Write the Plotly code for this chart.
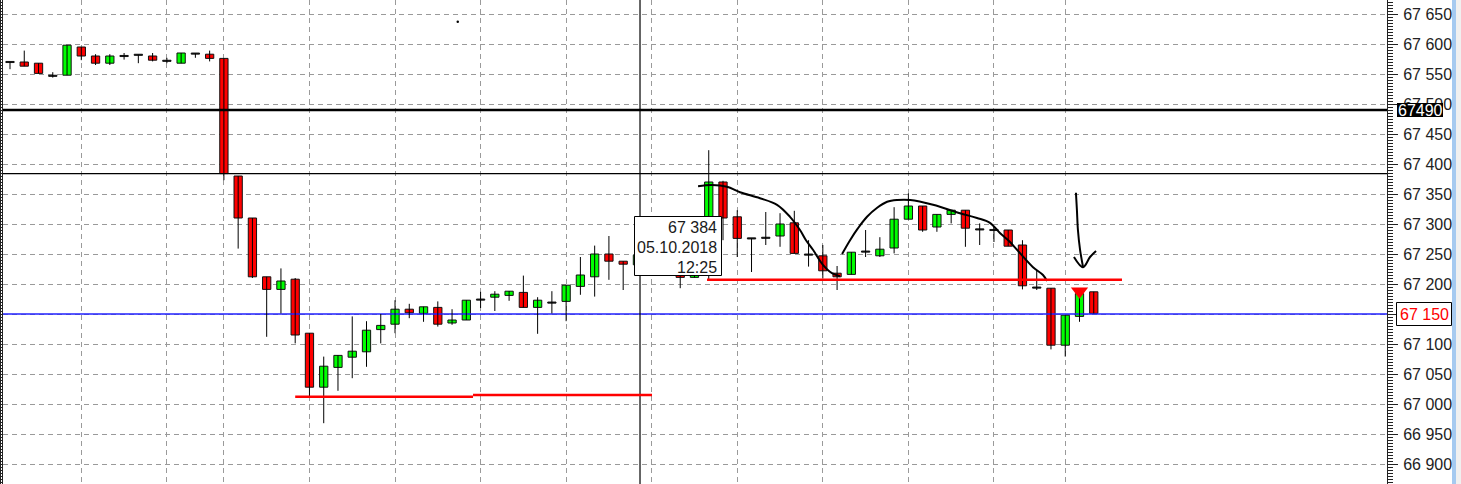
import plotly.graph_objects as go

# ---------------- data ----------------
opens = [67570, 67570, 67568, 67547, 67548, 67595, 67580, 67568, 67580, 67582,
         67580, 67572, 67568, 67584, 67583, 67576, 67380, 67310, 67212, 67191,
         67208, 67118, 67028, 67061, 67078, 67087, 67124, 67133, 67158, 67151,
         67161, 67135, 67140, 67174, 67178, 67181, 67186, 67161, 67169, 67171,
         67196, 67212, 67250, 67238, 67232, 67248, 67240, 67218, 67211, 67216,
         67370, 67312, 67276, 67277, 67280, 67302, 67249, 67247, 67218, 67216,
         67254, 67247, 67260, 67308, 67330, 67295, 67316, 67323, 67291, 67290,
         67290, 67265, 67194, 67193, 67098, 67146, 67187]
highs = [67570, 67589, 67568, 67553, 67598, 67595, 67583, 67583, 67585, 67582,
         67585, 67577, 67585, 67584, 67589, 67576, 67380, 67310, 67212, 67226,
         67210, 67118, 67079, 67081, 67146, 67138, 67150, 67173, 67167, 67162,
         67171, 67158, 67173, 67187, 67188, 67188, 67214, 67178, 67188, 67198,
         67245, 67264, 67280, 67238, 67255, 67262, 67250, 67228, 67225, 67423,
         67372, 67323, 67276, 67320, 67318, 67322, 67273, 67265, 67230, 67253,
         67290, 67278, 67328, 67351, 67330, 67316, 67323, 67323, 67301, 67295,
         67290, 67273, 67223, 67193, 67148, 67184, 67187]
lows = [67558, 67563, 67551, 67544, 67548, 67573, 67565, 67565, 67574, 67568,
        67571, 67568, 67568, 67577, 67571, 67373, 67259, 67210, 67112, 67151,
        67101, 67012, 66968, 67022, 67043, 67062, 67101, 67118, 67143, 67137,
        67129, 67132, 67140, 67160, 67155, 67172, 67161, 67117, 67151, 67138,
        67182, 67179, 67207, 67190, 67228, 67230, 67218, 67193, 67211, 67207,
        67273, 67245, 67220, 67265, 67262, 67251, 67229, 67209, 67190, 67216,
        67245, 67245, 67251, 67308, 67287, 67287, 67301, 67262, 67265, 67270,
        67263, 67191, 67190, 67091, 67079, 67137, 67151]
closes = [67570, 67563, 67551, 67547, 67598, 67580, 67568, 67580, 67580, 67582,
          67573, 67572, 67585, 67584, 67576, 67384, 67310, 67212, 67191, 67205,
          67115, 67028, 67063, 67081, 67088, 67123, 67131, 67158, 67152, 67162,
          67133, 67140, 67173, 67174, 67183, 67188, 67161, 67173, 67169, 67198,
          67215, 67250, 67238, 67233, 67248, 67240, 67225, 67211, 67218, 67370,
          67310, 67276, 67276, 67277, 67300, 67251, 67249, 67222, 67212, 67253,
          67254, 67258, 67308, 67330, 67290, 67316, 67323, 67293, 67291, 67290,
          67263, 67197, 67194, 67098, 67148, 67184, 67151]
bar_index = list(range(len(opens)))

# bars where the terminal draws its vertical grid
grid_bars = [5, 11, 15, 21, 27, 33, 39, 45, 51, 57, 63, 69, 74]

price_ticks = list(range(66900, 67651, 50))
price_labels = [f"{v // 1000} {v % 1000:03d}" for v in price_ticks]

# horizontal levels
level_thick = 67490       # black thick
level_cross = 67384       # crosshair price
level_bid = 67150         # blue bid line
# red support segments: (start bar, end bar, price)
supports = [(20.0, 32.47, 67012), (32.47, 45.02, 67015), (48.88, 77.98, 67207)]
cross_bar = 44.18

# hand drawn strokes (bar index, price)
curve1_x = [48.25, 49.23, 50.28, 51.19, 52.59, 53.79, 54.70, 55.40, 55.82, 56.31, 57.01, 57.64, 58.20]
curve1_y = [67363, 67365, 67362, 67353, 67343, 67332, 67312, 67290, 67273, 67257, 67232, 67218, 67213]
curve2_x = [58.35, 58.91, 59.47, 60.10, 60.81, 61.51, 62.22, 63.13, 64.73, 66.62, 67.81, 68.72,
            69.42, 70.13, 70.62, 71.74, 72.44, 72.72]
curve2_y = [67250, 67273, 67293, 67312, 67327, 67337, 67340, 67340, 67332, 67318, 67310, 67302,
            67285, 67270, 67257, 67228, 67215, 67205]
arrow_x = [74.75, 74.82, 74.89, 75.04, 75.25]
arrow_y = [67352, 67323, 67290, 67257, 67228]
head_x = [74.61, 75.25, 75.74, 76.16]
head_y = [67245, 67228, 67245, 67255]
signal_bar, signal_price = 75, 67188
dot_bar, dot_price = 31.4, 67637

tooltip_lines = ["67 384", "05.10.2018", "12:25"]
thick_label = "67490"
bid_label = "67 150"

# ---------------- geometry ----------------
W, H = 1461, 484
ML, MR = 3, 74
PW = W - ML - MR
X0 = -7 / 14.26
X1 = X0 + PW / 14.26
Y_TOP = 67150 + 314 / 0.6
Y_BOT = 67150 - 170 / 0.6


def px(x):
    return (x - ML) / PW


def py(y):
    return 1 - y / H


GREEN, RED = "#00ff00", "#ff0000"
GRID = "#9a9a9a"
FONT = "Liberation Sans, Arial, sans-serif"

# the bid price is shown by its own red label, so its plain tick text is left empty
axis_labels = ["" if v == level_bid else t for v, t in zip(price_ticks, price_labels)]

fig = go.Figure()

# blue bid line (drawn as first trace: above the grid, below the candles)
fig.add_trace(go.Scatter(x=[X0 - 1, X1 + 1], y=[level_bid, level_bid], mode="lines",
                         line=dict(color="#2020ff", width=1.3), hoverinfo="skip", showlegend=False))

# wicks
wx, wy = [], []
for i, h, l in zip(bar_index, highs, lows):
    wx += [i, i, None]
    wy += [l, h, None]
fig.add_trace(go.Scatter(x=wx, y=wy, mode="lines", line=dict(color="#000", width=1),
                         hoverinfo="skip", showlegend=False))

# bodies
bases, heights, colors = [], [], []
for o, c in zip(opens, closes):
    if c == o:
        bases.append(o - 0.9)
        heights.append(1.8)
        colors.append("#000")
    else:
        bases.append(min(o, c))
        heights.append(abs(c - o))
        colors.append(GREEN if c > o else RED)
fig.add_trace(go.Bar(x=bar_index, y=heights, base=bases, width=0.58,
                     marker=dict(color=colors, line=dict(color="#111", width=1)),
                     hoverinfo="skip", showlegend=False))

# hand drawn strokes
for xs, ys in [(curve1_x, curve1_y), (curve2_x, curve2_y), (arrow_x, arrow_y), (head_x, head_y)]:
    fig.add_trace(go.Scatter(x=xs, y=ys, mode="lines",
                             line=dict(color="#000", width=2, shape="spline"),
                             hoverinfo="skip", showlegend=False))

fig.add_trace(go.Scatter(x=[signal_bar], y=[signal_price], mode="markers",
                         marker=dict(symbol="triangle-down", size=15, color=RED, line=dict(width=0)),
                         hoverinfo="skip", showlegend=False))
fig.add_trace(go.Scatter(x=[dot_bar], y=[dot_price], mode="markers",
                         marker=dict(size=2.5, color="#000"), hoverinfo="skip", showlegend=False))
# dummy trace to activate left ruler axis
fig.add_trace(go.Scatter(x=[None], y=[None], yaxis="y2", showlegend=False, hoverinfo="skip"))

shapes = []
# black lines
shapes.append(dict(type="line", xref="x", yref="y", x0=X0 - 1, x1=X1 + 1, y0=level_thick, y1=level_thick,
                   line=dict(color="#000", width=2.6), layer="above"))
shapes.append(dict(type="line", xref="x", yref="y", x0=X0 - 1, x1=X1 + 1, y0=level_cross, y1=level_cross,
                   line=dict(color="#000", width=1.2), layer="above"))
shapes.append(dict(type="line", xref="x", yref="y", x0=cross_bar, x1=cross_bar, y0=Y_BOT - 50, y1=Y_TOP + 50,
                   line=dict(color="#000", width=1.2), layer="above"))
for a, b, p in supports:
    shapes.append(dict(type="line", xref="x", yref="y", x0=a, x1=b, y0=p, y1=p,
                       line=dict(color=RED, width=2.6), layer="above"))
# tooltip box
shapes.append(dict(type="rect", xref="paper", yref="paper", x0=px(634.5), x1=px(721.5),
                   y0=py(275.5), y1=py(216.5), fillcolor="#fff", line=dict(color="#000", width=1),
                   layer="above"))
# axis price labels
shapes.append(dict(type="rect", xref="paper", yref="paper", x0=px(1397), x1=px(1443),
                   y0=py(117), y1=py(103), fillcolor="#000", line=dict(width=0), layer="above"))
shapes.append(dict(type="rect", xref="paper", yref="paper", x0=px(1396.5), x1=px(1451.5),
                   y0=py(325.5), y1=py(302.5), fillcolor="#fff", line=dict(color="#000", width=1),
                   layer="above"))
# right window border
shapes.append(dict(type="rect", xref="paper", yref="paper", x0=px(1452), x1=px(1456),
                   y0=0, y1=1, fillcolor="#a6caf0", line=dict(width=0), layer="above"))
shapes.append(dict(type="rect", xref="paper", yref="paper", x0=px(1456), x1=px(1461),
                   y0=0, y1=1, fillcolor="#f0f0f0", line=dict(width=0), layer="above"))
# left ruler outer line
shapes.append(dict(type="line", xref="paper", yref="paper", x0=px(0.5), x1=px(0.5),
                   y0=0, y1=1, line=dict(color="#222", width=1), layer="above"))

annotations = []
for k, t in enumerate(tooltip_lines):
    annotations.append(dict(xref="paper", yref="paper", x=px(718.5), y=py(227 + 20 * k),
                            text=t, showarrow=False, xanchor="right", yanchor="middle",
                            font=dict(family=FONT, size=16, color="#1a1a1a")))
annotations.append(dict(xref="paper", yref="paper", x=px(1420), y=py(110), text=thick_label,
                        showarrow=False, xanchor="center", yanchor="middle",
                        font=dict(family=FONT, size=16, color="#fff")))
annotations.append(dict(xref="paper", yref="paper", x=px(1424), y=py(314), text=bid_label,
                        showarrow=False, xanchor="center", yanchor="middle",
                        font=dict(family=FONT, size=16, color=RED)))

fig.update_layout(
    width=W, height=H,
    margin=dict(l=ML, r=MR, t=0, b=0, pad=0),
    paper_bgcolor="#fff", plot_bgcolor="#fff",
    showlegend=False, hovermode=False,
    shapes=shapes, annotations=annotations,
    xaxis=dict(range=[X0, X1], tickvals=grid_bars, showticklabels=False, ticks="",
               showgrid=True, gridcolor=GRID, griddash="5px,4px", gridwidth=1,
               zeroline=False, showline=False, fixedrange=True),
    yaxis=dict(range=[Y_BOT, Y_TOP], side="right", tickvals=price_ticks, ticktext=axis_labels,
               ticks="outside", ticklen=10, tickwidth=1, tickcolor="#222",
               showline=True, linecolor="#222", linewidth=1,
               showgrid=True, gridcolor=GRID, griddash="5px,4px", gridwidth=1,
               minor=dict(dtick=5, ticks="outside", ticklen=5, tickcolor="#222", showgrid=False),
               tickfont=dict(family=FONT, size=16, color="#222"),
               zeroline=False, fixedrange=True, ticklabelstandoff=2),
    yaxis2=dict(range=[Y_BOT, Y_TOP], overlaying="y", side="left", showticklabels=False,
                ticks="outside", ticklen=3, dtick=5, tickcolor="#222", showline=True,
                linecolor="#222", showgrid=False, zeroline=False, fixedrange=True),
)

fig.write_html("out.html", config={"displayModeBar": False},
               post_script="document.body.style.margin='0';document.body.style.overflow='hidden';")
